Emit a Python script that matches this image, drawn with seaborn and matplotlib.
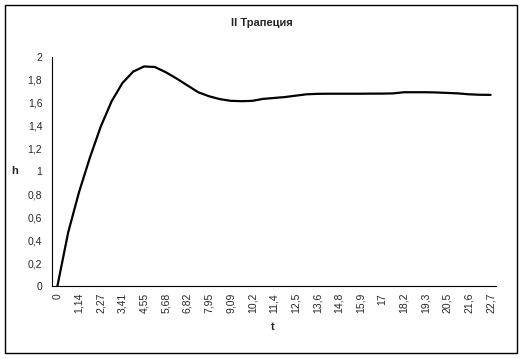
import matplotlib
matplotlib.use("Agg")
import matplotlib.pyplot as plt
import seaborn as sns
import numpy as np
from matplotlib.patches import Rectangle

# time labels on the category axis (every second category is labelled)
t_labels = ["0", "1,14", "2,27", "3,41", "4,55", "5,68", "6,82", "7,95", "9,09", "10,2",
            "11,4", "12,5", "13,6", "14,8", "15,9", "17", "18,2", "19,3", "20,5", "21,6", "22,7"]

# h values, 41 categories (step ~0.5675)
h = [0.00, 0.47, 0.82, 1.12, 1.39, 1.61, 1.77, 1.87, 1.915, 1.91,
     1.865, 1.81, 1.75, 1.69, 1.655, 1.63, 1.615, 1.612, 1.615, 1.632,
     1.64, 1.648, 1.66, 1.672, 1.676, 1.677, 1.677, 1.677, 1.677, 1.678,
     1.678, 1.68, 1.69, 1.69, 1.69, 1.688, 1.684, 1.68, 1.672, 1.668, 1.667]

y_ticks = [0, 0.2, 0.4, 0.6, 0.8, 1, 1.2, 1.4, 1.6, 1.8, 2]

sns.set_style("white")
plt.rcParams['font.family'] = ['Liberation Sans', 'DejaVu Sans']

W, H = 524, 359
fig = plt.figure(figsize=(W / 100, H / 100), dpi=100)
ax = fig.add_axes([52 / W, 1 - 286 / H, (496 - 52) / W, (286 - 56.7) / H])

idx = np.arange(len(h))
sns.lineplot(x=idx, y=h, ax=ax, color="black", linewidth=1.6)

ax.set_xlim(-0.5, len(h) - 0.5)
ax.set_ylim(0, 2)

# labels at every second category, tick marks between categories
ax.set_xticks(idx[::2])
ax.set_xticklabels(t_labels, rotation=90, fontsize=7.5)
ax.set_xticks(np.arange(-0.5, len(h), 1), minor=True)
ax.tick_params(axis="x", which="major", length=0, pad=5)
ax.tick_params(axis="x", which="minor", length=4, width=0.8, direction="out", color="black")

ax.set_yticks(y_ticks)
ax.set_yticklabels([("%g" % v).replace(".", ",") for v in y_ticks], fontsize=7.5)
ax.tick_params(axis="y", length=4, width=0.8, direction="out", color="black", pad=3)

for s in ["top", "right"]:
    ax.spines[s].set_visible(False)
for s in ["left", "bottom"]:
    ax.spines[s].set_color("black")
    ax.spines[s].set_linewidth(0.8)

ax.set_xlabel("")
ax.set_ylabel("")
fig.text(273 / W, 1 - 327 / H, "t", fontsize=8, fontweight="bold", ha="center", va="center")
fig.text(15 / W, 1 - 171 / H, "h", fontsize=8, fontweight="bold", ha="center", va="center")
fig.text(262 / W, 1 - 23 / H, "II Трапеция", fontsize=8, fontweight="bold", ha="center", va="center")

# chart border
fig.patches.append(Rectangle((5 / W, 1 - 353 / H), (517 - 5) / W, (353 - 5) / H,
                             transform=fig.transFigure, fill=False, edgecolor="black", linewidth=1))

fig.savefig("out.png", dpi=100)
